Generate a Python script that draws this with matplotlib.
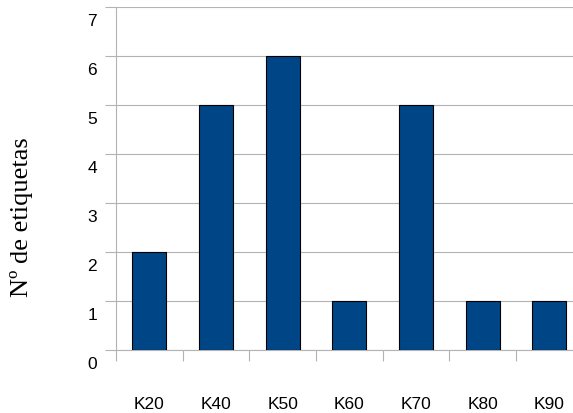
import matplotlib.pyplot as plt
import matplotlib.transforms as mtransforms

categories = ["K20", "K40", "K50", "K60", "K70", "K80", "K90"]
counts = [2, 5, 6, 1, 5, 1, 1]
y_ticks = [0, 1, 2, 3, 4, 5, 6, 7]

grid_color = "#b3b3b3"
bar_color = "#004586"

fig = plt.figure(figsize=(5.73, 4.14), dpi=100)
# right side of the plot area runs past the image edge, as in the original
ax = fig.add_axes([116 / 573, 63 / 414, 466.7 / 573, 343 / 414])

x = [i + 0.5 for i in range(len(categories))]
ax.bar(x, counts, width=0.51, color=bar_color, edgecolor="black", linewidth=0.8, zorder=3)

ax.set_xlim(0, 7)
ax.set_ylim(0, 7)

ax.set_yticks(y_ticks)
ax.set_yticklabels([str(v) for v in y_ticks], fontsize=12.5, family="Liberation Sans")
ax.yaxis.grid(True, color=grid_color, linewidth=0.8, zorder=0)
ax.tick_params(axis="y", length=8, width=0.8, color=grid_color, pad=5.5)

ax.set_xticks(x)
ax.set_xticklabels(categories, fontsize=12.5, family="Liberation Sans")
ax.set_xticks(range(8), minor=True)
ax.tick_params(axis="x", which="major", length=0, pad=33)
ax.tick_params(axis="x", which="minor", length=8, width=0.8, color=grid_color)

for side in ["top", "right"]:
    ax.spines[side].set_visible(False)
for side in ["left", "bottom"]:
    ax.spines[side].set_color(grid_color)
    ax.spines[side].set_linewidth(0.8)
ax.set_axisbelow(True)

# labels sit a bit below their grid lines
offset = mtransforms.ScaledTranslation(0, -0.12, fig.dpi_scale_trans)
for lab in ax.get_yticklabels():
    lab.set_transform(lab.get_transform() + offset)

fig.text(22 / 573, 1 - 217 / 414, "Nº de etiquetas", rotation=90, ha="center", va="center",
         fontsize=19, family="Liberation Serif")

fig.savefig("out.png", dpi=100)
